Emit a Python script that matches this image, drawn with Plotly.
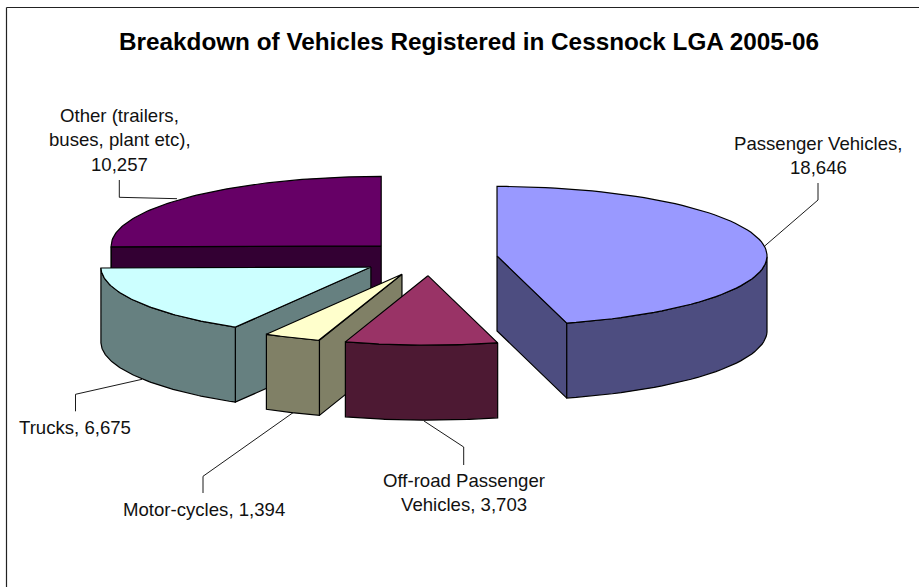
import math
import plotly.graph_objects as go

# ---- data ----
categories = ["Passenger Vehicles", "Off-road Passenger Vehicles", "Motor-cycles", "Trucks", "Other (trailers, buses, plant etc)"]
values = [18646, 3703, 1394, 6675, 10257]

# ---- styling ----
top_colors = ["#9999FF", "#993366", "#FFFFCC", "#CCFFFF", "#660066"]
side_colors = ["#4D4D80", "#4D1933", "#808066", "#668080", "#330033"]
label_lines = [["Passenger Vehicles,", "{v}"],
               ["Off-road Passenger", "Vehicles, {v}"],
               ["Motor-cycles, {v}"],
               ["Trucks, {v}"],
               ["Other (trailers,", "buses, plant etc),", "{v}"]]
label_xy = [(818, 143), (463.5, 480), (203.5, 509), (75, 427), (119.5, 115)]
leaders = [[(818, 183), (818, 200), (764.7, 246)],
           [(463.7, 465), (463.7, 447), (424, 421)],
           [(203, 493), (203, 476.3), (293, 412.7)],
           [(75.5, 411.3), (75.5, 394.3), (142, 379.3)],
           [(119.3, 180), (119.3, 197.3), (177, 198.7)]]
LINE_H = 24.5
FONT = "Liberation Sans, Arial, sans-serif"

# pie geometry (px in the chart frame)
CX, CY = 429.6, 258.2   # pie centre
RX, RY = 270, 69.5      # ellipse radii
EXPLODE_X, EXPLODE_Y = 68, 17.5
DEPTH = 75
ORDER = [4, 3, 2, 1, 0]  # painter's order, back to front

total = sum(values)
fig = go.Figure()


def poly(pts, color):
    fig.add_trace(go.Scatter(x=[p[0] for p in pts] + [pts[0][0]],
                             y=[p[1] for p in pts] + [pts[0][1]],
                             mode="lines", fill="toself", fillcolor=color,
                             line=dict(color="#000000", width=1.2),
                             hoverinfo="skip", showlegend=False))


# cumulative angles, clockwise from 12 o'clock
angles = []
acc = 0
for v in values:
    start = acc / total * 2 * math.pi
    acc += v
    angles.append((start, acc / total * 2 * math.pi))

for i in ORDER:
    a0, a1 = angles[i]
    mid = (a0 + a1) / 2
    ax = CX + EXPLODE_X * math.sin(mid)
    ay = CY - EXPLODE_Y * math.cos(mid)

    def pt(a):
        return (ax + RX * math.sin(a), ay - RY * math.cos(a))

    def down(p):
        return (p[0], p[1] + DEPTH)

    apex = (ax, ay)
    n = 80
    arc = [a0 + (a1 - a0) * k / n for k in range(n + 1)]
    # cut faces
    if math.sin(a0) < -1e-6:
        p = pt(a0)
        poly([apex, p, down(p), down(apex)], side_colors[i])
    if math.sin(a1) > 1e-6:
        p = pt(a1)
        poly([apex, p, down(p), down(apex)], side_colors[i])
    # outer wall: front half only
    front = [a for a in arc if math.cos(a) <= 0]
    if front:
        upper = [pt(a) for a in front]
        poly(upper + [down(p) for p in reversed(upper)], side_colors[i])
    # top face
    poly([apex] + [pt(a) for a in arc], top_colors[i])

shapes = [dict(type="line", x0=6.5, y0=7.5, x1=6.5, y1=600, line=dict(color="#222222", width=1.2)),
          dict(type="line", x0=6.5, y0=7.5, x1=930, y1=7.5, line=dict(color="#222222", width=1.2))]
for path in leaders:
    fig.add_trace(go.Scatter(x=[p[0] for p in path], y=[p[1] for p in path], mode="lines",
                             line=dict(color="#000000", width=0.9), hoverinfo="skip", showlegend=False))

annotations = [dict(x=469, y=41, xref="x", yref="y", showarrow=False,
                    text="<b>Breakdown of Vehicles Registered in Cessnock LGA 2005-06</b>",
                    font=dict(family=FONT, size=24.3, color="#000000"))]
for lines, (lx, ly), v in zip(label_lines, label_xy, values):
    for k, line in enumerate(lines):
        annotations.append(dict(x=lx, y=ly + k * LINE_H, xref="x", yref="y", showarrow=False,
                                text=line.format(v=f"{v:,}"),
                                font=dict(family=FONT, size=18.6, color="#111111")))

fig.update_layout(width=919, height=587, margin=dict(l=0, r=0, t=0, b=0),
                  paper_bgcolor="#FFFFFF", plot_bgcolor="#FFFFFF",
                  xaxis=dict(range=[0, 919], visible=False, fixedrange=True),
                  yaxis=dict(range=[587, 0], visible=False, fixedrange=True),
                  shapes=shapes, annotations=annotations, showlegend=False)
fig.write_html("out.html", config={"displayModeBar": False},
               post_script="document.body.style.margin='0';document.body.style.overflow='hidden';")
